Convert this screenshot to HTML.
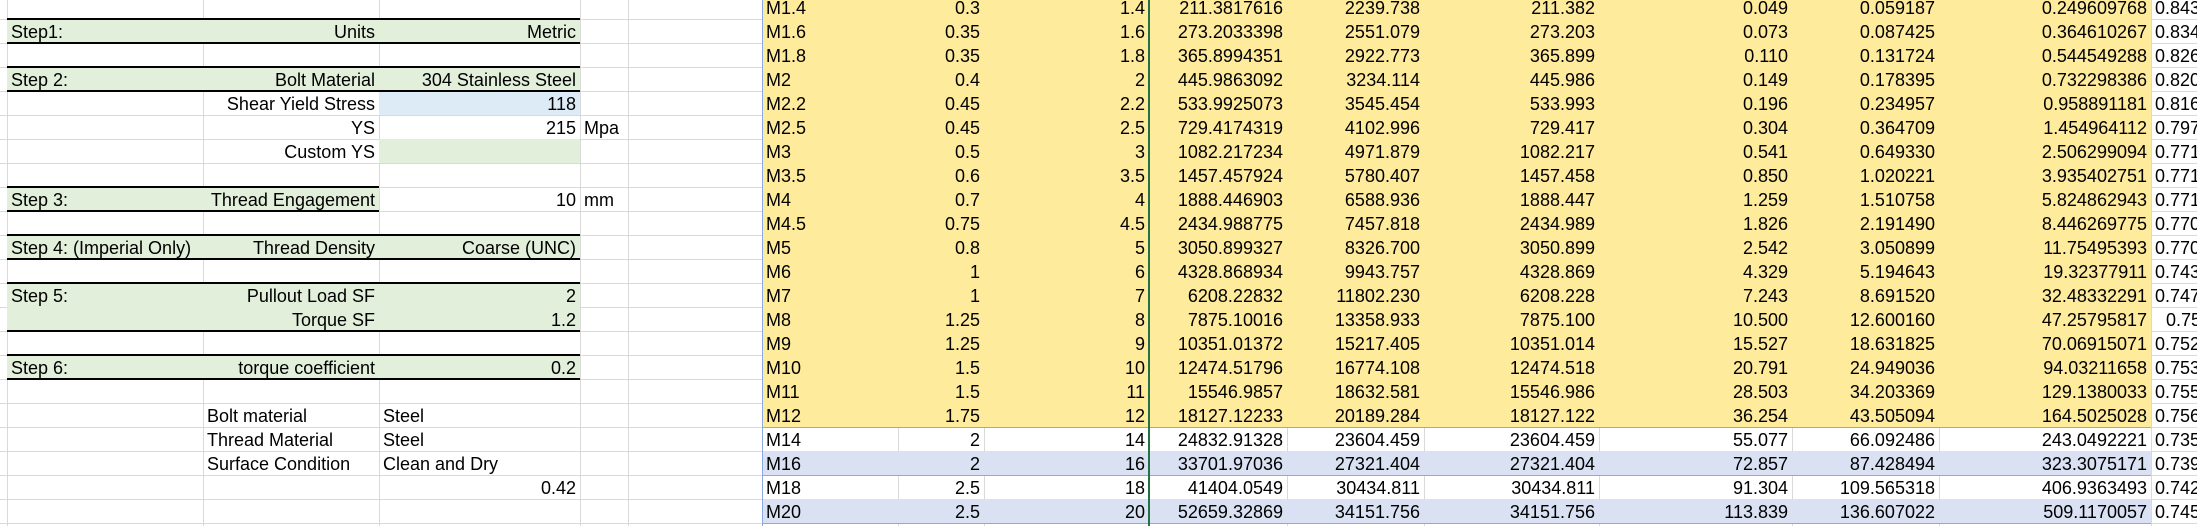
<!DOCTYPE html>
<html><head><meta charset="utf-8"><style>
html,body{margin:0;padding:0;background:#fff;}
#sheet{position:relative;width:2197px;height:526px;overflow:hidden;font-family:"Liberation Sans",sans-serif;font-size:18px;color:#000;}
.c{position:absolute;height:24px;line-height:24px;white-space:nowrap;box-sizing:border-box;padding-top:1px;overflow:hidden;}
.l{position:absolute;}
</style></head><body>
<div id="sheet"></div>
<script>
const sizes=["M1.4","M1.6","M1.8","M2","M2.2","M2.5","M3","M3.5","M4","M4.5","M5","M6","M7","M8","M9","M10","M11","M12","M14","M16","M18","M20"];
const pitch=["0.3","0.35","0.35","0.4","0.45","0.45","0.5","0.6","0.7","0.75","0.8","1","1","1.25","1.25","1.5","1.5","1.75","2","2","2.5","2.5"];
const diam=["1.4","1.6","1.8","2","2.2","2.5","3","3.5","4","4.5","5","6","7","8","9","10","11","12","14","16","18","20"];
const colI=["211.3817616","273.2033398","365.8994351","445.9863092","533.9925073","729.4174319","1082.217234","1457.457924","1888.446903","2434.988775","3050.899327","4328.868934","6208.22832","7875.10016","10351.01372","12474.51796","15546.9857","18127.12233","24832.91328","33701.97036","41404.0549","52659.32869"];
const colJ=["2239.738","2551.079","2922.773","3234.114","3545.454","4102.996","4971.879","5780.407","6588.936","7457.818","8326.700","9943.757","11802.230","13358.933","15217.405","16774.108","18632.581","20189.284","23604.459","27321.404","30434.811","34151.756"];
const colK=["211.382","273.203","365.899","445.986","533.993","729.417","1082.217","1457.458","1888.447","2434.989","3050.899","4328.869","6208.228","7875.100","10351.014","12474.518","15546.986","18127.122","23604.459","27321.404","30434.811","34151.756"];
const colL=["0.049","0.073","0.110","0.149","0.196","0.304","0.541","0.850","1.259","1.826","2.542","4.329","7.243","10.500","15.527","20.791","28.503","36.254","55.077","72.857","91.304","113.839"];
const colM=["0.059187","0.087425","0.131724","0.178395","0.234957","0.364709","0.649330","1.020221","1.510758","2.191490","3.050899","5.194643","8.691520","12.600160","18.631825","24.949036","34.203369","43.505094","66.092486","87.428494","109.565318","136.607022"];
const colN=["0.249609768","0.364610267","0.544549288","0.732298386","0.958891181","1.454964112","2.506299094","3.935402751","5.824862943","8.446269775","11.75495393","19.32377911","32.48332291","47.25795817","70.06915071","94.03211658","129.1380033","164.5025028","243.0492221","323.3075171","406.9363493","509.1170057"];
const colO=["0.8435","0.8345","0.8266","0.8206","0.8166","0.7977","0.7717","0.7717","0.7717","0.7706","0.7706","0.7433","0.7477","0.75","0.7522","0.7533","0.7555","0.7566","0.7355","0.7399","0.7422","0.7455"];

const S=document.getElementById('sheet');
const colX=[7,203,379,580,628,762,898,984,1149,1287,1424,1599,1792,1939,2151,2197];
function rowTop(i){return 24*i-4.7;}
function rect(x,y,w,h,bg,name){
  const d=document.createElement('div');
  d.className='l';
  d.style.cssText='left:'+x+'px;top:'+y+'px;width:'+w+'px;height:'+h+'px;background:'+bg;
  
  
  S.appendChild(d);
}
function cell(x1,x2,row,text,align,name){
  const d=document.createElement('div');
  d.className='c';
  d.style.left=x1+'px';d.style.width=(x2-x1)+'px';d.style.top=rowTop(row)+'px';
  d.style.textAlign=align;
  if(align==='right')d.style.paddingRight='4px';else d.style.paddingLeft='4px';
  d.textContent=text;
  
  
  S.appendChild(d);
}
for(const x of colX){rect(x,0,1,526,'#d9d9d9','grid-col-line');}
for(let i=0;i<23;i++){rect(0,rowTop(i)+24,2197,1,'#d9d9d9','grid-row-line');}

const G='#e2efda';
[1,3,10,12,13,15].forEach(r=>rect(7,rowTop(r),573,24,G,'step-fill'));
rect(7,rowTop(8),372,24,G,'step-fill');
rect(379,rowTop(4),201,24,'#ddebf7','shear-yield-fill');
rect(379,rowTop(6),201,24,G,'custom-ys-fill');
function bd(x,w,y){rect(x,y-1,w,2,'#000','step-border');}
[1,3,10,15].forEach(r=>{bd(7,573,rowTop(r));bd(7,573,rowTop(r)+24);});
bd(7,573,rowTop(12));bd(7,573,rowTop(14));
bd(7,372,rowTop(8));bd(7,372,rowTop(9));

cell(7,203,1,'Step1:','left','step1-label');cell(203,379,1,'Units','right','units-label');cell(379,580,1,'Metric','right','units-value');
cell(7,203,3,'Step 2:','left','step2-label');cell(203,379,3,'Bolt Material','right','bolt-material-label');cell(379,580,3,'304 Stainless Steel','right','bolt-material-value');
cell(203,379,4,'Shear Yield Stress','right','shear-yield-label');cell(379,580,4,'118','right','shear-yield-value');
cell(203,379,5,'YS','right','ys-label');cell(379,580,5,'215','right','ys-value');cell(580,700,5,'Mpa','left','ys-unit');
cell(203,379,6,'Custom YS','right','custom-ys-label');
cell(7,203,8,'Step 3:','left','step3-label');cell(203,379,8,'Thread Engagement','right','thread-engagement-label');cell(379,580,8,'10','right','thread-engagement-value');cell(580,700,8,'mm','left','thread-engagement-unit');
cell(7,260,10,'Step 4: (Imperial Only)','left','step4-label');cell(203,379,10,'Thread Density','right','thread-density-label');cell(379,580,10,'Coarse (UNC)','right','thread-density-value');
cell(7,203,12,'Step 5:','left','step5-label');cell(203,379,12,'Pullout Load SF','right','pullout-sf-label');cell(379,580,12,'2','right','pullout-sf-value');
cell(203,379,13,'Torque SF','right','torque-sf-label');cell(379,580,13,'1.2','right','torque-sf-value');
cell(7,203,15,'Step 6:','left','step6-label');cell(203,379,15,'torque coefficient','right','torque-coef-label');cell(379,580,15,'0.2','right','torque-coef-value');
cell(203,379,17,'Bolt material','left','bolt-material-key');cell(379,580,17,'Steel','left','bolt-material-val');
cell(203,379,18,'Thread Material','left','thread-material-key');cell(379,580,18,'Steel','left','thread-material-val');
cell(203,379,19,'Surface Condition','left','surface-condition-key');cell(379,580,19,'Clean and Dry','left','surface-condition-val');
cell(379,580,20,'0.42','right','friction-value');

for(let i=0;i<sizes.length;i++){
  const bg=i<18?'#ffeb9c':(i%2===1?'#d9e1f2':null);
  if(bg)rect(762,rowTop(i),1389,24,bg,'row-fill');
  rect(762,rowTop(i)+24,1389,1,'#8ea9db','row-border');
  cell(762,898,i,sizes[i],'left','size-'+sizes[i]);
  cell(898,984,i,pitch[i],'right','pitch');
  cell(984,1149,i,diam[i],'right','diameter');
  cell(1149,1287,i,colI[i],'right','value-i');
  cell(1287,1424,i,colJ[i],'right','value-j');
  cell(1424,1599,i,colK[i],'right','value-k');
  cell(1599,1792,i,colL[i],'right','value-l');
  cell(1792,1939,i,colM[i],'right','value-m');
  cell(1939,2151,i,colN[i],'right','value-n');
  cell(colO[i].length<5?2162:2151,2260,i,colO[i],'left','value-o');
}
rect(762,0,1,526,'#8ea9db','table-left-border');
rect(1148,0,2,526,'#217346','selection-line');
</script>
</body></html>
